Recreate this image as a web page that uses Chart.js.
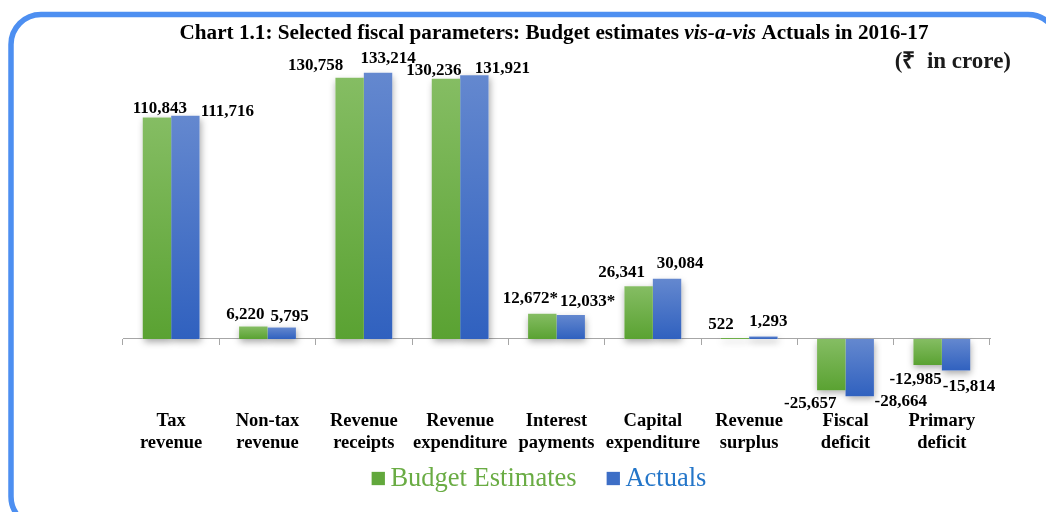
<!DOCTYPE html>
<html>
<head>
<meta charset="utf-8">
<script src="https://cdn.jsdelivr.net/npm/chart.js@4.4.0/dist/chart.umd.min.js"></script>
<style>
  html, body { margin: 0; padding: 0; background: #fff; }
  #wrap { width: 1046px; height: 512px; }
</style>
</head>
<body>
<div id="wrap"><canvas id="myChart"></canvas></div>
<script>
const categories = [
  ['Tax', 'revenue'], ['Non-tax', 'revenue'], ['Revenue', 'receipts'],
  ['Revenue', 'expenditure'], ['Interest', 'payments'], ['Capital', 'expenditure'],
  ['Revenue', 'surplus'], ['Fiscal', 'deficit'], ['Primary', 'deficit'],
];
const budgetEstimates = [110843, 6220, 130758, 130236, 12672, 26341, 522, -25657, -12985];
const actuals = [111716, 5795, 133214, 131921, 12033, 30084, 1293, -28664, -15814];
const footnoteMarks = ['', '', '', '', '*', '', '', '', ''];
const seriesNames = ['Budget Estimates', 'Actuals'];
const titleParts = [
  ['Chart 1.1: Selected fiscal parameters: Budget estimates ', 'bold'],
  ['vis-a-vis', 'italic bold'],
  [' Actuals in 2016-17', 'bold'],
];
const unitText = '(\u20B9  in crore)';

// labels were placed by hand in the source, so keep per-label nudges (px from bar end)
const labelNudge = [
  [[3, -9], [-8, -12], [-34, -12], [-12, -8], [-12, -15], [-17, -14], [-14, -13], [-21, 13], [-12, 15]],
  [[42, -4], [8, -11], [10, -14], [28, -7], [17, -13], [13, -15], [5, -15], [41, 5], [13, 16]],
];

const SERIF = "'Liberation Serif', 'Times New Roman', serif";
Chart.defaults.font.family = SERIF;

const GREEN = { light: '#85bd63', dark: '#5aa232', legend: '#62a83c', text: '#6aac44' };
const BLUE = { light: '#6488cf', dark: '#3061bf', legend: '#3d6ec6', text: '#2476c9' };

// vertical gradient per bar: lighter at the top, darker at the bottom
const barFill = (col) => (ctx) => {
  const chart = ctx.chart;
  const y = chart.scales.y;
  if (ctx.type !== 'data' || !y || !chart.chartArea) return col.dark;
  const v = ctx.raw;
  const top = y.getPixelForValue(Math.max(v, 0));
  const bot = y.getPixelForValue(Math.min(v, 0));
  if (!isFinite(top) || !isFinite(bot) || bot - top < 1) return col.dark;
  const g = chart.ctx.createLinearGradient(0, top, 0, bot);
  g.addColorStop(0, col.light);
  g.addColorStop(1, col.dark);
  return g;
};

const frameAndTitle = {
  id: 'frameAndTitle',
  beforeDraw(chart) {
    const c = chart.ctx;
    c.save();
    c.strokeStyle = '#4d8ff1';
    c.lineWidth = 5.5;
    c.beginPath();
    c.roundRect(11, 14.5, 1047, 512, 30);
    c.stroke();

    c.fillStyle = '#000';
    c.textBaseline = 'alphabetic';
    c.textAlign = 'left';
    let total = 0;
    const widths = titleParts.map(([t, s]) => {
      c.font = s + ' 21.2px ' + SERIF;
      const w = c.measureText(t).width;
      total += w;
      return w;
    });
    let x = 554 - total / 2;
    titleParts.forEach(([t, s], i) => {
      c.font = s + ' 21.2px ' + SERIF;
      c.fillText(t, x, 39);
      x += widths[i];
    });

    c.font = 'bold 23px ' + SERIF;
    c.fillStyle = '#1a1a1a';
    c.textAlign = 'right';
    c.fillText(unitText, 1011, 68);
    c.restore();
  },
};

// soft grey shadow behind each bar
const barShadow = {
  id: 'barShadow',
  beforeDatasetsDraw(chart) {
    const c = chart.ctx;
    c.save();
    c.shadowColor = 'rgba(0,0,0,0.35)';
    c.shadowBlur = 7;
    c.shadowOffsetX = 1;
    c.shadowOffsetY = 3;
    c.fillStyle = '#fff';
    chart.data.datasets.forEach((ds, i) => {
      chart.getDatasetMeta(i).data.forEach((el) => {
        const { x, y, base, width } = el.getProps(['x', 'y', 'base', 'width'], true);
        c.fillRect(x - width / 2, Math.min(y, base), width, Math.max(Math.abs(base - y), 1));
      });
    });
    c.restore();
  },
};

const valueLabels = {
  id: 'valueLabels',
  afterDatasetsDraw(chart) {
    const c = chart.ctx;
    c.save();
    c.font = 'bold 17px ' + SERIF;
    c.fillStyle = '#000';
    c.textAlign = 'center';
    c.textBaseline = 'middle';
    chart.data.datasets.forEach((ds, i) => {
      chart.getDatasetMeta(i).data.forEach((el, j) => {
        const { x, y } = el.getProps(['x', 'y'], true);
        const [dx, dy] = labelNudge[i][j];
        const txt = ds.data[j].toLocaleString('en-US') + footnoteMarks[j];
        c.fillText(txt, x + dx, y + dy);
      });
    });
    c.restore();
  },
};

// legend drawn by hand: small square, tight gap, coloured serif text
const bottomLegend = {
  id: 'bottomLegend',
  afterDraw(chart) {
    const c = chart.ctx;
    const cols = [GREEN, BLUE];
    const box = 13.3, gap = 5.5, itemGap = 30, cy = 478.5;
    c.save();
    c.font = '26.5px ' + SERIF;
    c.textBaseline = 'middle';
    c.textAlign = 'left';
    const tw = seriesNames.map((t) => c.measureText(t).width);
    const total = tw.reduce((a, w) => a + box + gap + w, 0) + itemGap * (seriesNames.length - 1);
    let x = 539 - total / 2;
    seriesNames.forEach((t, i) => {
      c.fillStyle = cols[i].legend;
      c.fillRect(x, cy - box / 2, box, box);
      c.fillStyle = cols[i].text;
      c.fillText(t, x + box + gap, cy + 1);
      x += box + gap + tw[i] + itemGap;
    });
    c.restore();
  },
};

const ctx = document.getElementById('myChart').getContext('2d');
const myChart = new Chart(ctx, {
  type: 'bar',
  data: {
    labels: categories,
    datasets: [
      {
        label: seriesNames[0],
        data: budgetEstimates,
        backgroundColor: barFill(GREEN),
        borderWidth: 0,
        categoryPercentage: 0.59,
        barPercentage: 1,
      },
      {
        label: seriesNames[1],
        data: actuals,
        backgroundColor: barFill(BLUE),
        borderWidth: 0,
        categoryPercentage: 0.59,
        barPercentage: 1,
      },
    ],
  },
  options: {
    responsive: true,
    maintainAspectRatio: false,
    animation: false,
    layout: { padding: { top: 40, left: 32, right: 0, bottom: 56 } },
    scales: {
      x: {
        position: 'bottom',
        grid: { display: false, drawTicks: false },
        border: { display: false },
        ticks: {
          color: '#000',
          font: { size: 18.5, weight: 'bold', lineHeight: 1.17 },
          padding: 2,
          maxRotation: 0,
          autoSkip: false,
        },
      },
      x0: {
        type: 'category',
        position: { y: 0 },
        offset: true,
        ticks: { display: false },
        grid: { display: true, offset: true, drawOnChartArea: false, drawTicks: true, tickLength: 6, color: '#a6a6a6' },
        border: { display: true, color: '#a6a6a6', width: 1 },
      },
      y: {
        min: -34900,
        max: 149600,
        ticks: { display: false },
        grid: { display: false },
        border: { display: false },
        afterFit: (s) => { s.width = 91; },
      },
      yr: {
        position: 'right',
        ticks: { display: false },
        grid: { display: false },
        border: { display: false },
        afterFit: (s) => { s.width = 56; },
      },
    },
    plugins: {
      title: { display: false },
      tooltip: { enabled: false },
      legend: { display: false },
    },
  },
  plugins: [frameAndTitle, barShadow, valueLabels, bottomLegend],
});
</script>
</body>
</html>
